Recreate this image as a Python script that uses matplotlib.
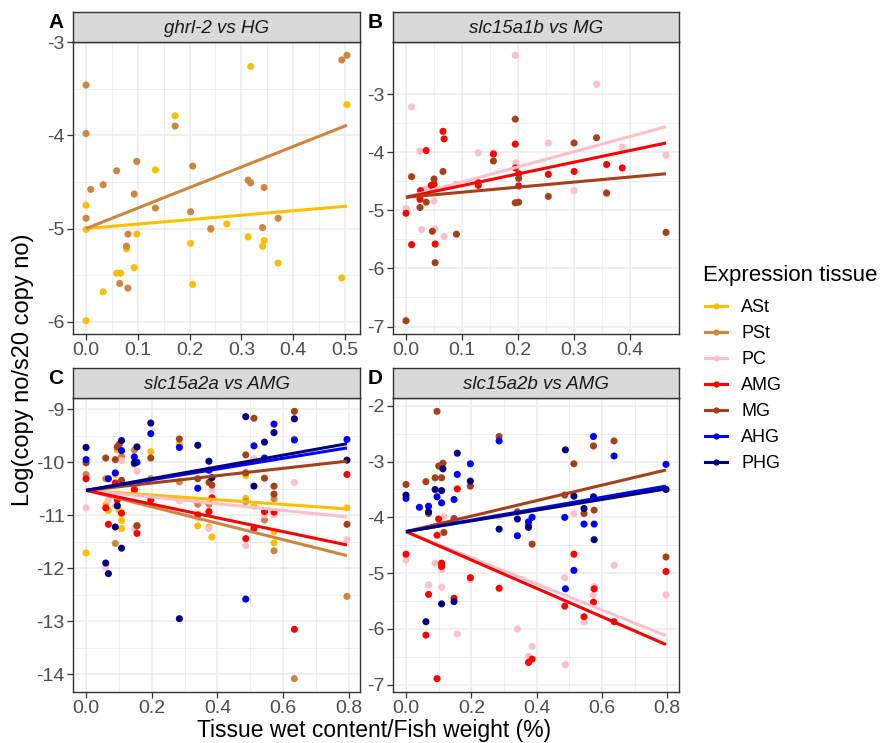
import matplotlib
matplotlib.use("Agg")
import matplotlib.pyplot as plt
from matplotlib.lines import Line2D
import numpy as np

plt.rcParams['font.family'] = ['Liberation Sans', 'DejaVu Sans']

# ---------------- data ----------------
tissues = ["ASt", "PSt", "PC", "AMG", "MG", "AHG", "PHG"]
colors = {"ASt": "#FFBF00", "PSt": "#CD853F", "PC": "#FFC0CB", "AMG": "#FF0000",
          "MG": "#A5401A", "AHG": "#0000FF", "PHG": "#000080"}

titles = ["ghrl-2 vs HG", "slc15a1b vs MG", "slc15a2a vs AMG", "slc15a2b vs AMG"]
panel_letters = ["A", "B", "C", "D"]

# Panel A
a_x_ast = [0, 0, 0, 0.033, 0.059, 0.067, 0.078, 0.093, 0.098, 0.134, 0.172, 0.202, 0.206,
           0.241, 0.272, 0.313, 0.318, 0.341, 0.344, 0.371, 0.494, 0.504]
a_y_ast = [-4.75, -5.01, -5.99, -5.68, -5.48, -5.48, -5.22, -5.42, -5.06, -4.37, -3.79, -5.16, -5.60,
           -5.01, -4.95, -5.09, -3.26, -5.19, -5.13, -5.37, -5.53, -3.67]
a_x_pst = [0, 0, 0, 0.009, 0.033, 0.059, 0.081, 0.078, 0.065, 0.081, 0.093, 0.098, 0.134, 0.172,
           0.202, 0.206, 0.241, 0.313, 0.318, 0.344, 0.341, 0.371, 0.494, 0.504]
a_y_pst = [-3.46, -3.98, -4.89, -4.58, -4.53, -4.38, -5.06, -5.19, -5.59, -5.64, -4.63, -4.28, -4.78, -3.90,
           -4.82, -4.33, -5.00, -4.48, -4.51, -4.56, -4.99, -4.89, -3.19, -3.14]

# Panel B
b_x_pc = [0.195, 0.340, 0.010, 0.025, 0.129, 0.156, 0.254, 0.386, 0.464, 0.196, 0.036, 0.050, 0,
          0.028, 0.052, 0.068, 0.300, 0.358, 0.089]
b_y_pc = [-2.33, -2.83, -3.22, -3.98, -4.01, -4.01, -3.84, -3.91, -4.05, -4.18, -4.63, -4.84, -4.97,
          -5.33, -5.32, -5.45, -4.66, -4.72, -4.55]
b_x_amg = [0, 0.010, 0.025, 0.026, 0.036, 0.045, 0.050, 0.052, 0.066, 0.068, 0.129, 0.156, 0.195,
           0.195, 0.201, 0.201, 0.254, 0.300, 0.358, 0.386]
b_y_amg = [-5.05, -5.59, -4.81, -4.66, -3.97, -4.57, -4.55, -5.58, -3.64, -3.77, -4.57, -4.03, -3.86,
           -4.27, -4.37, -4.58, -4.38, -4.33, -4.21, -4.27]
b_x_mg = [0, 0.010, 0.025, 0.036, 0.047, 0.050, 0.052, 0.066, 0.090, 0.129, 0.156, 0.195, 0.195,
          0.201, 0.201, 0.254, 0.300, 0.340, 0.358, 0.464]
b_y_mg = [-6.90, -4.42, -4.95, -4.86, -5.36, -4.46, -5.90, -4.33, -5.41, -4.52, -4.15, -3.43, -4.87,
          -4.86, -4.45, -4.76, -3.84, -3.75, -4.70, -5.38]

# Panel C
c_x_phg = [0, 0.060, 0.068, 0.089, 0.108, 0.108, 0.095, 0.147, 0.155, 0.197, 0.284, 0.340, 0.374,
           0.383, 0.486, 0.511, 0.543, 0.572, 0.634, 0.794]
c_y_phg = [-9.72, -11.90, -12.10, -11.22, -9.59, -11.62, -10.82, -10.01, -9.71, -9.26, -12.95, -9.68,
           -9.98, -10.29, -9.14, -10.45, -9.62, -9.44, -9.18, -9.96]
c_x_ahg = [0, 0.068, 0.089, 0.108, 0.147, 0.155, 0.197, 0.284, 0.340, 0.374, 0.486, 0.511, 0.543,
           0.572, 0.634, 0.794]
c_y_ahg = [-9.95, -10.31, -10.20, -9.78, -9.90, -10.00, -9.46, -9.72, -10.49, -10.15, -12.58, -9.69,
           -9.92, -9.28, -9.58, -9.57]
c_x_mg = [0, 0.060, 0.089, 0.095, 0.101, 0.108, 0.147, 0.155, 0.197, 0.284, 0.340, 0.374, 0.383,
          0.486, 0.511, 0.486, 0.543, 0.572, 0.572, 0.634, 0.794]
c_y_mg = [-10.01, -9.92, -9.95, -9.71, -9.66, -10.34, -10.03, -11.20, -9.92, -9.56, -10.31, -10.38,
          -10.43, -9.86, -9.17, -10.20, -10.30, -10.60, -10.45, -9.04, -11.17]
c_x_pst = [0, 0.060, 0.089, 0.095, 0.108, 0.147, 0.155, 0.197, 0.284, 0.340, 0.374, 0.486, 0.543,
           0.572, 0.572, 0.634, 0.794]
c_y_pst = [-10.23, -10.31, -11.53, -10.82, -9.89, -9.77, -11.19, -10.31, -10.37, -10.79, -10.79,
           -10.74, -11.09, -11.67, -10.69, -14.08, -12.53]
c_x_ast = [0, 0.060, 0.068, 0.089, 0.095, 0.101, 0.108, 0.108, 0.147, 0.197, 0.284, 0.340, 0.374,
           0.383, 0.486, 0.486, 0.511, 0.572, 0.572, 0.634, 0.794]
c_y_ast = [-11.71, -10.80, -10.91, -10.23, -9.77, -10.91, -11.10, -11.25, -10.49, -9.80, -9.66,
           -11.20, -11.22, -11.41, -10.25, -10.68, -10.83, -11.31, -11.52, -9.56, -10.86]
c_x_pc = [0, 0.060, 0.068, 0.089, 0.108, 0.147, 0.155, 0.284, 0.340, 0.374, 0.383, 0.486, 0.511,
          0.543, 0.572, 0.634, 0.794]
c_y_pc = [-10.86, -11.98, -10.71, -10.82, -9.97, -11.25, -10.17, -10.73, -11.05, -11.25, -10.52,
          -11.57, -9.93, -10.99, -10.99, -10.38, -11.46]
c_x_amg = [0, 0.060, 0.068, 0.089, 0.095, 0.108, 0.147, 0.155, 0.197, 0.340, 0.374, 0.383, 0.486,
           0.511, 0.543, 0.572, 0.634, 0.794]
c_y_amg = [-10.31, -10.86, -11.17, -10.39, -10.71, -10.96, -10.52, -11.34, -10.71, -10.99, -10.93,
           -10.67, -11.44, -11.25, -10.93, -10.94, -13.15, -10.23]

# Panel D
d_x_mg = [0, 0.061, 0.069, 0.089, 0.095, 0.100, 0.109, 0.113, 0.116, 0.147, 0.197, 0.285, 0.341,
          0.375, 0.386, 0.486, 0.514, 0.545, 0.574, 0.576, 0.637, 0.796]
d_y_mg = [-3.41, -3.36, -3.93, -3.29, -2.10, -3.08, -3.29, -3.03, -4.27, -4.02, -3.44, -2.55, -3.90,
          -4.14, -4.48, -3.60, -3.04, -3.93, -2.72, -3.87, -2.63, -4.71]
d_x_ahg = [0, 0.041, 0.069, 0.095, 0.109, 0.147, 0.157, 0.197, 0.285, 0.341, 0.375, 0.386, 0.486,
           0.488, 0.514, 0.545, 0.574, 0.576, 0.637, 0.796]
d_y_ahg = [-3.66, -3.82, -3.80, -3.63, -3.74, -3.68, -3.23, -3.04, -2.63, -4.33, -4.08, -4.00, -4.00,
           -5.28, -4.95, -4.12, -2.55, -4.12, -2.90, -3.05]
d_x_phg = [0, 0.061, 0.069, 0.089, 0.109, 0.109, 0.113, 0.147, 0.157, 0.197, 0.285, 0.341, 0.375,
           0.488, 0.514, 0.545, 0.574, 0.576, 0.796]
d_y_phg = [-3.60, -5.87, -3.90, -3.50, -3.52, -5.55, -3.13, -5.51, -2.85, -3.35, -4.21, -4.03, -4.18,
           -2.79, -3.62, -3.84, -3.63, -4.40, -3.50]
d_x_amg = [0, 0.061, 0.069, 0.095, 0.100, 0.095, 0.109, 0.109, 0.147, 0.157, 0.197, 0.285, 0.375,
           0.386, 0.486, 0.514, 0.545, 0.574, 0.576, 0.637, 0.796]
d_y_amg = [-4.66, -6.11, -5.38, -6.89, -4.03, -4.32, -4.82, -4.88, -5.45, -3.49, -5.08, -5.27, -6.60,
           -6.54, -5.59, -4.66, -5.78, -5.52, -5.28, -5.87, -4.97]
d_x_pc = [0, 0.069, 0.089, 0.109, 0.109, 0.116, 0.157, 0.197, 0.285, 0.341, 0.375, 0.386, 0.486,
          0.488, 0.514, 0.545, 0.574, 0.576, 0.637, 0.796]
d_y_pc = [-4.76, -5.21, -4.82, -5.25, -4.94, -3.99, -6.09, -5.12, -3.99, -6.00, -6.49, -6.31, -5.08,
          -6.64, -3.93, -5.88, -5.39, -5.24, -4.86, -5.39]

# fitted lines: common intercept per panel, slope per tissue
a_intercept = -5.0
a_slopes = {"ASt": 0.476, "PSt": 2.20}
b_intercept = -4.775
b_slopes = {"PC": 2.62, "AMG": 2.015, "MG": 0.873}
c_intercept = -10.53
c_slopes = {"ASt": -0.441, "PSt": -1.549, "PC": -0.630, "AMG": -1.297, "MG": 0.693,
            "AHG": 1.008, "PHG": 1.108}
d_intercept = -4.255
d_slopes = {"PC": -2.343, "AMG": -2.544, "MG": 1.388, "AHG": 1.024, "PHG": 0.961}

panels = [
    {"points": {"ASt": (a_x_ast, a_y_ast), "PSt": (a_x_pst, a_y_pst)},
     "intercept": a_intercept, "slopes": a_slopes,
     "xticks": [0.0, 0.1, 0.2, 0.3, 0.4, 0.5], "yticks": [-6, -5, -4, -3]},
    {"points": {"PC": (b_x_pc, b_y_pc), "AMG": (b_x_amg, b_y_amg), "MG": (b_x_mg, b_y_mg)},
     "intercept": b_intercept, "slopes": b_slopes,
     "xticks": [0.0, 0.1, 0.2, 0.3, 0.4], "yticks": [-7, -6, -5, -4, -3]},
    {"points": {"ASt": (c_x_ast, c_y_ast), "PSt": (c_x_pst, c_y_pst), "PC": (c_x_pc, c_y_pc),
                "AMG": (c_x_amg, c_y_amg), "MG": (c_x_mg, c_y_mg), "AHG": (c_x_ahg, c_y_ahg),
                "PHG": (c_x_phg, c_y_phg)},
     "intercept": c_intercept, "slopes": c_slopes,
     "xticks": [0.0, 0.2, 0.4, 0.6, 0.8], "yticks": [-14, -13, -12, -11, -10, -9]},
    {"points": {"PC": (d_x_pc, d_y_pc), "AMG": (d_x_amg, d_y_amg), "MG": (d_x_mg, d_y_mg),
                "AHG": (d_x_ahg, d_y_ahg), "PHG": (d_x_phg, d_y_phg)},
     "intercept": d_intercept, "slopes": d_slopes,
     "xticks": [0.0, 0.2, 0.4, 0.6, 0.8], "yticks": [-7, -6, -5, -4, -3, -2]},
]

# ---------------- layout ----------------
W, H = 886, 743
fig = plt.figure(figsize=(W / 100, H / 100), dpi=100)
fig.patch.set_facecolor("white")

col_lr = [(73, 360), (393, 679)]
row_tb = [(42, 334), (398, 692)]
strip_h = 30

def fr(left, top, right, bottom):
    return [left / W, 1 - bottom / H, (right - left) / W, (bottom - top) / H]

tick_col = "#4D4D4D"
frame_col = "#333333"

for i, p in enumerate(panels):
    r, c = divmod(i, 2)
    l, rr = col_lr[c]
    t, b = row_tb[r]
    ax = fig.add_axes(fr(l, t, rr, b))
    ax.set_facecolor("white")

    # points
    allx = []
    for tis in tissues:
        if tis in p["points"]:
            xs, ys = p["points"][tis]
            allx.extend(xs)
            ax.scatter(xs, ys, s=26, color=colors[tis], edgecolors="none", zorder=3)
    xmax = max(allx)
    xl = np.array([0.0, xmax])
    for tis in tissues:
        if tis in p["slopes"]:
            ax.plot(xl, p["intercept"] + p["slopes"][tis] * xl, color=colors[tis], lw=2.2,
                    solid_capstyle="butt", zorder=4)

    ax.margins(0.05)
    ax.set_xticks(p["xticks"])
    ax.set_yticks(p["yticks"])
    xt = p["xticks"]
    yt = p["yticks"]
    ax.set_xticks([(xt[k] + xt[k + 1]) / 2 for k in range(len(xt) - 1)], minor=True)
    ax.set_yticks([(yt[k] + yt[k + 1]) / 2 for k in range(len(yt) - 1)], minor=True)
    ax.set_xticklabels([f"{v:.1f}" for v in xt])
    ax.set_yticklabels([f"{v:d}" for v in yt])
    ax.grid(True, which="major", color="#EBEBEB", lw=1.1, zorder=0)
    ax.grid(True, which="minor", color="#EBEBEB", lw=0.55, zorder=0)
    ax.set_axisbelow(True)
    ax.tick_params(which="major", length=4, width=0.9, color=frame_col, labelcolor=tick_col,
                   labelsize=14, pad=2)
    ax.tick_params(which="minor", length=0)
    for sp in ax.spines.values():
        sp.set_color(frame_col)
        sp.set_linewidth(1.0)

    # strip
    sax = fig.add_axes(fr(l, t - strip_h, rr, t))
    sax.set_facecolor("#D9D9D9")
    sax.set_xticks([])
    sax.set_yticks([])
    for sp in sax.spines.values():
        sp.set_color(frame_col)
        sp.set_linewidth(1.0)
    sax.text(0.5, 0.45, titles[i], transform=sax.transAxes, ha="center", va="center",
             fontsize=13.5, style="italic", color="#1A1A1A")

    # panel letter
    fig.text((l - 25) / W, 1 - (t - 20) / H, panel_letters[i], fontsize=15, fontweight="bold",
             ha="left", va="center", color="black")

fig.text(23 / W, 1 - 370 / H, "Log(copy no/s20 copy no)", rotation=90, ha="center",
         va="center", fontsize=17, color="black")
fig.text(374 / W, 1 - 731 / H, "Tissue wet content/Fish weight (%)", ha="center",
         va="center", fontsize=16.5, color="black")

fig.text(703 / W, 1 - 275 / H, "Expression tissue", ha="left", va="center",
         fontsize=16, color="black")
handles = [Line2D([0], [0], color=colors[t], lw=2.2, marker="o", markersize=4.5,
                  markeredgewidth=0) for t in tissues]
leg = fig.legend(handles, tissues, loc="upper left", bbox_to_anchor=(705 / W, 1 - 299 / H),
                 frameon=False, fontsize=13,
                 handlelength=1.2, handletextpad=0.8, labelspacing=0.5, borderaxespad=0,
                 borderpad=0, alignment="left")

fig.savefig("out.png", dpi=100, facecolor="white")
